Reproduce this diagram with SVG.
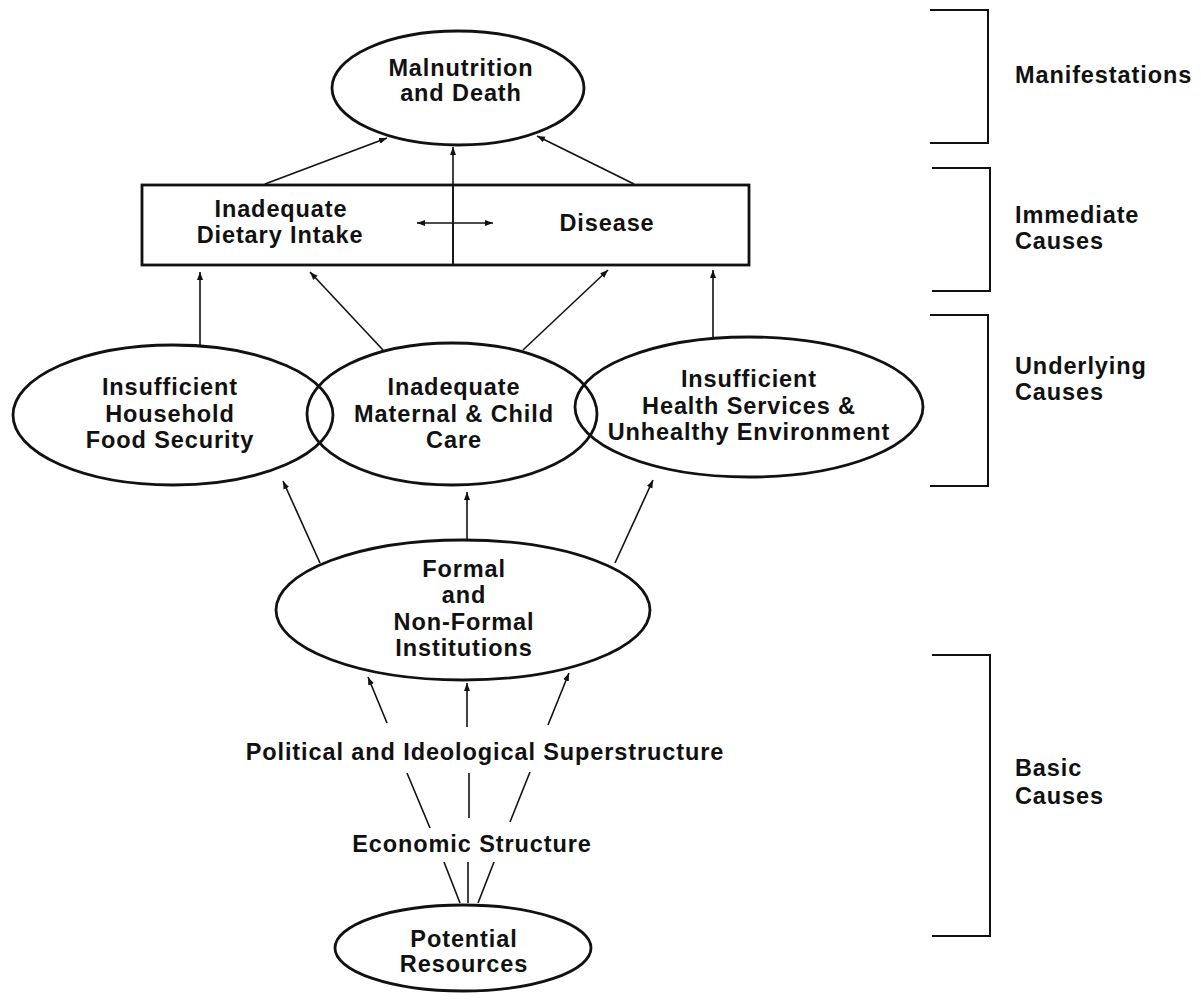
<svg xmlns="http://www.w3.org/2000/svg" width="1201" height="1003" viewBox="0 0 1201 1003">
<style>
  text { font-family: "Liberation Sans", Arial, sans-serif; font-weight: bold; font-size: 23.5px; letter-spacing: 0.9px; fill: #111; }
  .c { text-anchor: middle; }
  .node { fill: none; stroke: #111; stroke-width: 2.8; }
  .wnode { fill: #fff; stroke: #111; stroke-width: 2.8; }
  .ln { stroke: #111; stroke-width: 1.6; fill: none; }
  .arr { marker-end: url(#ah); }
  .br { stroke: #111; stroke-width: 2; fill: none; }
</style>
<defs>
  <marker id="ah" markerUnits="userSpaceOnUse" markerWidth="10" markerHeight="8" refX="8" refY="4" orient="auto">
    <path d="M0,1 L8,4 L0,7 Z" fill="#111"/>
  </marker>
  <marker id="as" markerUnits="userSpaceOnUse" markerWidth="10" markerHeight="8" refX="0" refY="4" orient="auto">
    <path d="M8,1 L0,4 L8,7 Z" fill="#111"/>
  </marker>
</defs>
<rect width="1201" height="1003" fill="#fff"/>

<g id="connectors">
  <line class="ln arr" x1="265" y1="184" x2="387" y2="138"/>
  <line class="ln arr" x1="634" y1="184" x2="537" y2="136"/>
  <line class="ln arr" x1="453" y1="265" x2="453" y2="147"/>
  <line class="ln" x1="417" y1="223" x2="493" y2="223" marker-start="url(#as)" marker-end="url(#ah)"/>
  <line class="ln arr" x1="200" y1="345" x2="200" y2="272"/>
  <line class="ln arr" x1="383" y1="350" x2="310" y2="272"/>
  <line class="ln arr" x1="523" y1="350" x2="608" y2="270"/>
  <line class="ln arr" x1="713" y1="337" x2="713" y2="270"/>
  <line class="ln arr" x1="320" y1="563" x2="283" y2="481"/>
  <line class="ln arr" x1="467" y1="540" x2="467" y2="492"/>
  <line class="ln arr" x1="615" y1="563" x2="653" y2="480"/>
  <line class="ln arr" x1="387" y1="723" x2="368" y2="677"/>
  <line class="ln arr" x1="467" y1="727" x2="467" y2="683"/>
  <line class="ln arr" x1="548" y1="725" x2="569" y2="673"/>
  <line class="ln" x1="430" y1="828" x2="407" y2="773"/>
  <line class="ln" x1="469" y1="818" x2="469" y2="773"/>
  <line class="ln" x1="510" y1="822" x2="530" y2="772"/>
  <line class="ln" x1="460" y1="903" x2="444" y2="862"/>
  <line class="ln" x1="468" y1="903" x2="468" y2="862"/>
  <line class="ln" x1="478" y1="903" x2="494" y2="862"/>
</g>

<g id="malnutrition">
  <ellipse class="wnode" cx="458" cy="88" rx="126" ry="57"/>
  <text class="c" x="461" y="76">Malnutrition</text>
  <text class="c" x="461" y="101">and Death</text>
</g>

<g id="immediate-box">
  <rect x="142" y="185" width="607" height="80" fill="none" stroke="#111" stroke-width="2.8"/>
  <line x1="453" y1="185" x2="453" y2="265" stroke="#111" stroke-width="1.6"/>
  <text class="c" x="281" y="217">Inadequate</text>
  <text class="c" x="280" y="243">Dietary Intake</text>
  <text class="c" x="607" y="231">Disease</text>
</g>

<g id="food-security">
  <ellipse class="node" cx="173" cy="415" rx="160" ry="70"/>
  <text class="c" x="170" y="395">Insufficient</text>
  <text class="c" x="170" y="422">Household</text>
  <text class="c" x="170" y="448">Food Security</text>
</g>

<g id="care">
  <ellipse class="node" cx="452" cy="414" rx="145" ry="71"/>
  <text class="c" x="454" y="395">Inadequate</text>
  <text class="c" x="454" y="422">Maternal &amp; Child</text>
  <text class="c" x="454" y="448">Care</text>
</g>

<g id="health">
  <ellipse class="node" cx="749" cy="407" rx="174" ry="70"/>
  <text class="c" x="749" y="387">Insufficient</text>
  <text class="c" x="749" y="414">Health Services &amp;</text>
  <text class="c" x="749" y="440">Unhealthy Environment</text>
</g>

<g id="institutions">
  <ellipse class="wnode" cx="463" cy="610" rx="187" ry="70"/>
  <text class="c" x="464" y="577">Formal</text>
  <text class="c" x="464" y="603">and</text>
  <text class="c" x="464" y="630">Non-Formal</text>
  <text class="c" x="464" y="656">Institutions</text>
</g>

<g id="superstructure">
  <text class="c" x="485" y="760">Political and Ideological Superstructure</text>
</g>

<g id="economic">
  <text class="c" x="472" y="852">Economic Structure</text>
</g>

<g id="resources">
  <ellipse class="wnode" cx="463" cy="948" rx="128" ry="43"/>
  <text class="c" x="464" y="947">Potential</text>
  <text class="c" x="464" y="972">Resources</text>
</g>

<g id="brackets">
  <path class="br" d="M930,10 H988 V143 H930"/>
  <path class="br" d="M932,168 H990 V291 H932"/>
  <path class="br" d="M930,315 H988 V486 H930"/>
  <path class="br" d="M932,655 H990 V936 H932"/>
  <text x="1015" y="83">Manifestations</text>
  <text x="1015" y="223">Immediate</text>
  <text x="1015" y="249">Causes</text>
  <text x="1015" y="374">Underlying</text>
  <text x="1015" y="400">Causes</text>
  <text x="1015" y="776">Basic</text>
  <text x="1015" y="804">Causes</text>
</g>
</svg>
